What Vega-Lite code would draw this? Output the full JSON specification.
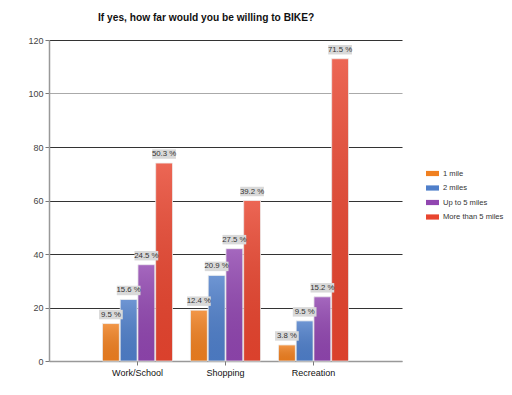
{
  "$schema": "https://vega.github.io/schema/vega-lite/v6.json",
  "width": 353,
  "height": 321,
  "autosize": {"type": "none"},
  "padding": {"left": 49, "top": 40, "right": 110, "bottom": 34},
  "background": "white",
  "config": {
    "view": {"stroke": null},
    "font": "Liberation Sans"
  },
  "title": {
    "text": "If yes, how far would you be willing to BIKE?",
    "fontSize": 10.2,
    "fontWeight": "bold",
    "color": "#111111",
    "anchor": "start",
    "frame": "group",
    "dx": 49,
    "offset": 13
  },
  "data": {
    "values": [
      {"category": "Work/School", "series": "1 mile", "value": 14, "pct": "9.5 %"},
      {"category": "Work/School", "series": "2 miles", "value": 23, "pct": "15.6 %"},
      {"category": "Work/School", "series": "Up to 5 miles", "value": 36, "pct": "24.5 %"},
      {"category": "Work/School", "series": "More than 5 miles", "value": 74, "pct": "50.3 %"},
      {"category": "Shopping", "series": "1 mile", "value": 19, "pct": "12.4 %"},
      {"category": "Shopping", "series": "2 miles", "value": 32, "pct": "20.9 %"},
      {"category": "Shopping", "series": "Up to 5 miles", "value": 42, "pct": "27.5 %"},
      {"category": "Shopping", "series": "More than 5 miles", "value": 60, "pct": "39.2 %"},
      {"category": "Recreation", "series": "1 mile", "value": 6, "pct": "3.8 %"},
      {"category": "Recreation", "series": "2 miles", "value": 15, "pct": "9.5 %"},
      {"category": "Recreation", "series": "Up to 5 miles", "value": 24, "pct": "15.2 %"},
      {"category": "Recreation", "series": "More than 5 miles", "value": 113, "pct": "71.5 %"}
    ]
  },
  "encoding": {
    "x": {
      "field": "category",
      "type": "nominal",
      "sort": ["Work/School", "Shopping", "Recreation"],
      "scale": {"paddingInner": 0.2045, "paddingOuter": 0.608},
      "axis": {
        "title": null,
        "labelAngle": 0,
        "labelFontSize": 9,
        "labelColor": "#111111",
        "labelPadding": 3,
        "tickSize": 4,
        "tickColor": "#777777",
        "domainColor": "#999999",
        "domainWidth": 1.5
      }
    },
    "xOffset": {
      "field": "series",
      "type": "nominal",
      "sort": ["1 mile", "2 miles", "Up to 5 miles", "More than 5 miles"],
      "scale": {"paddingInner": 0.05, "paddingOuter": 0}
    },
    "y": {
      "field": "value",
      "type": "quantitative",
      "scale": {"domain": [0, 120], "nice": false},
      "axis": {
        "title": null,
        "values": [0, 20, 40, 60, 80, 100, 120],
        "labelFontSize": 9,
        "labelColor": "#444444",
        "labelPadding": 2,
        "tickSize": 4,
        "tickColor": "#777777",
        "domainColor": "#999999",
        "domainWidth": 1.5,
        "gridColor": {"condition": {"test": "datum.value === 100 || datum.value === 0", "value": "#aaaaaa"}, "value": "#333333"},
        "gridWidth": 1.2,
        "gridOpacity": 1
      }
    }
  },
  "layer": [
    {
      "mark": {"type": "bar", "stroke": "#eeeeee", "strokeWidth": 0.8},
      "encoding": {
        "color": {
          "field": "series",
          "type": "nominal",
          "scale": {
            "domain": ["1 mile", "2 miles", "Up to 5 miles", "More than 5 miles"],
            "range": ["#F08020", "#4F7FCA", "#9146B0", "#E8452F"]
          },
          "legend": {
            "title": null,
            "orient": "none",
            "legendX": 377,
            "legendY": 127,
            "symbolType": "M-1,-0.4L1,-0.4L1,0.4L-1,0.4Z",
            "symbolSize": 169,
            "symbolStrokeWidth": 0,
            "labelFontSize": 7.6,
            "labelColor": "#333333",
            "rowPadding": 3.5,
            "labelOffset": 4
          }
        }
      }
    },
    {
      "mark": {
        "type": "bar",
        "fill": {
          "gradient": "linear",
          "x1": 0, "y1": 0, "x2": 0, "y2": 1,
          "stops": [
            {"offset": 0, "color": "rgba(255,255,255,0.18)"},
            {"offset": 1, "color": "rgba(0,0,0,0.06)"}
          ]
        }
      }
    },
    {
      "mark": {
        "type": "point",
        "shape": "M-2.5,-1L2.5,-1L2.5,1L-2.5,1Z",
        "size": 90,
        "filled": true,
        "fill": "#d9d9d9",
        "opacity": 1,
        "strokeWidth": 0,
        "yOffset": -9
      }
    },
    {
      "mark": {
        "type": "text",
        "fontSize": 7.8,
        "color": "#333333",
        "baseline": "middle",
        "yOffset": -9
      },
      "encoding": {"text": {"field": "pct"}}
    }
  ]
}
